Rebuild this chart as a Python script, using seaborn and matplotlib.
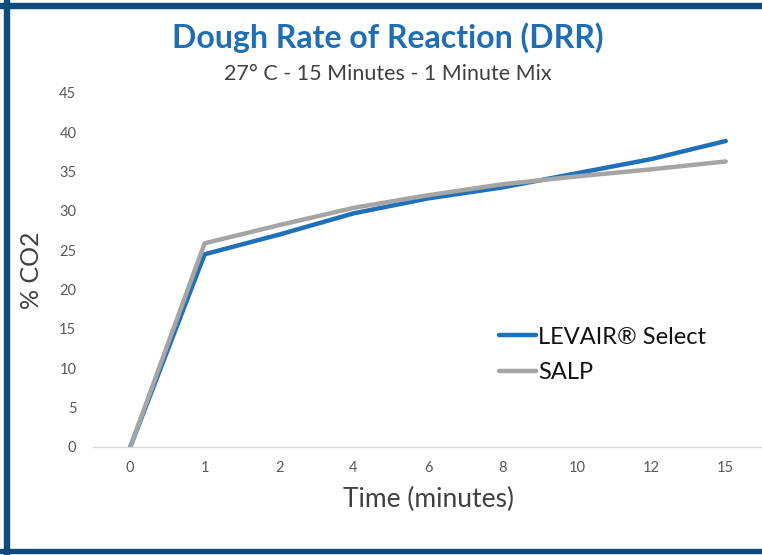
import pandas as pd
import matplotlib.pyplot as plt
import seaborn as sns
from matplotlib.patches import Rectangle

# Data
time_labels = ["0", "1", "2", "4", "6", "8", "10", "12", "15"]
levair_select = [0, 24.5, 27.0, 29.7, 31.6, 33.0, 34.8, 36.6, 38.9]
salp = [0, 25.9, 28.2, 30.4, 32.0, 33.4, 34.4, 35.3, 36.3]
series_names = ["LEVAIR\u00ae Select", "SALP"]
series_colors = ["#1F70B8", "#A5A5A5"]

df = pd.DataFrame({
    "time": time_labels * 2,
    "co2": levair_select + salp,
    "series": [series_names[0]] * len(time_labels) + [series_names[1]] * len(time_labels),
})

sns.set_theme(style="white")
plt.rcParams["font.family"] = ["Lato", "DejaVu Sans"]

W, H = 762, 555
fig = plt.figure(figsize=(W / 100, H / 100), dpi=100)
ax = fig.add_axes([93 / W, 1 - 447 / H, 670 / W, 354 / H])

sns.lineplot(data=df, x="time", y="co2", hue="series", hue_order=series_names,
             palette=series_colors, linewidth=3.2, sort=False, ax=ax)
# grey line drawn on top like the reference
for ln in ax.lines:
    if ln.get_color().lower() == series_colors[1].lower():
        ln.set_zorder(3)

ax.set_xlim(-0.5, len(time_labels) - 0.5)
ax.set_ylim(0, 45)
ax.set_yticks(range(0, 46, 5))
ax.tick_params(axis="x", length=0, labelsize=10.5, colors="#595959", pad=10)
ax.tick_params(axis="y", length=0, labelsize=10.5, colors="#595959", pad=12)
for s in ["top", "right", "left"]:
    ax.spines[s].set_visible(False)
ax.spines["bottom"].set_color("#D9D9D9")
ax.spines["bottom"].set_linewidth(1)

ax.set_xlabel("Time (minutes)", fontsize=19, color="#404040", labelpad=9)
ax.set_ylabel("% CO2", fontsize=18, color="#404040")
ax.yaxis.set_label_coords((43 - 93) / 670, 0.5)

leg = ax.legend(loc="upper left", bbox_to_anchor=(385 / 670, 0.40), frameon=False,
                fontsize=17, handlelength=1.55, handletextpad=0.1, labelspacing=0.62)
for t in leg.get_texts():
    t.set_color("#111111")

fig.text(388 / W, 1 - 38 / H, "Dough Rate of Reaction (DRR)", ha="center", va="center",
         fontsize=23, fontweight="bold", color="#1F6DB3")
fig.text(388 / W, 1 - 74 / H, "27\u00b0 C - 15 Minutes - 1 Minute Mix", ha="center", va="center",
         fontsize=15.5, color="#404040")

# navy frame (left, top, bottom)
frame_color = "#0D4C7D"
fig.patches.append(Rectangle((4 / W, 0), 5 / W, 1, transform=fig.transFigure, color=frame_color))
fig.patches.append(Rectangle((0, 1 - 8 / H), 1, 5 / H, transform=fig.transFigure, color=frame_color))
fig.patches.append(Rectangle((0, 2 / H), 1, 4 / H, transform=fig.transFigure, color=frame_color))

fig.savefig("out.png", dpi=100)
